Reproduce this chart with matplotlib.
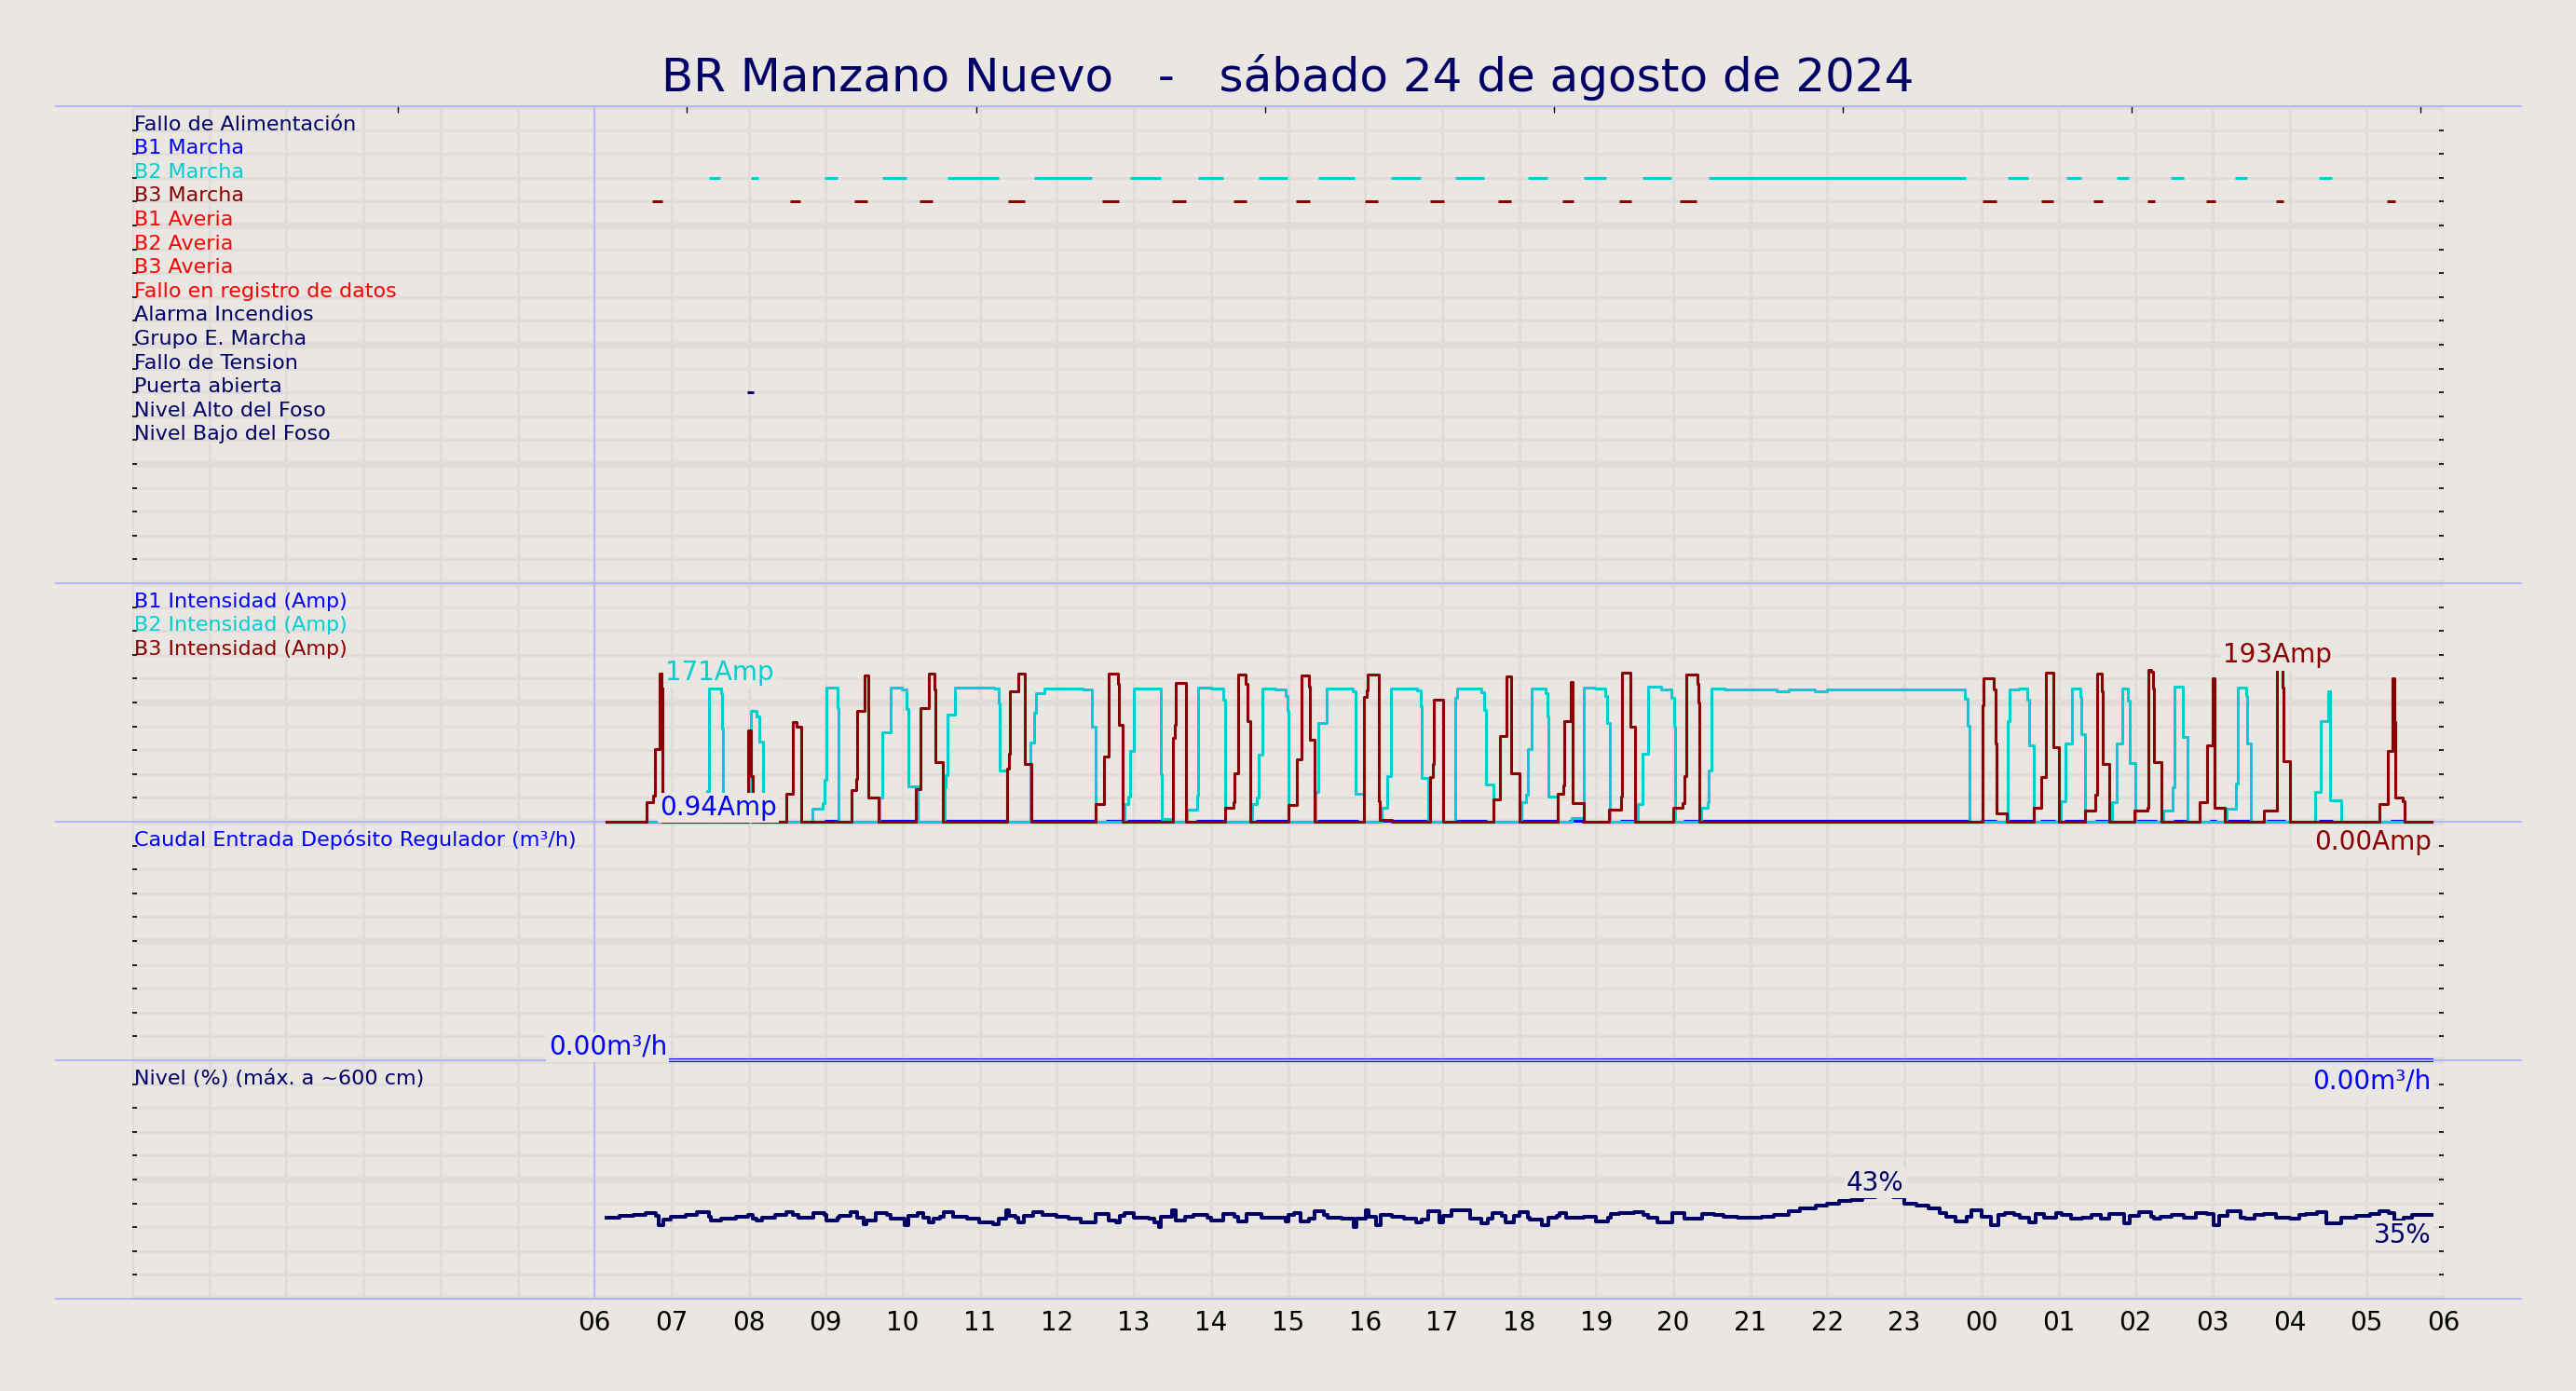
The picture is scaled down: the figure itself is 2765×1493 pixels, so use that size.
import numpy as np
import matplotlib.pyplot as plt

BG = "#eae6e1"
GRID = "#e1dcda"
LAV = "#b3b3ff"
NAVY = "#000066"
BLUE = "#0000ff"
TURQ = "#00ced1"
DRED = "#8b0000"
RED = "#ff0000"

TITLE = "BR Manzano Nuevo   -   sábado 24 de agosto de 2024"

# etiquetas de estado (fila 1..14)
status_labels = ["Fallo de Alimentación", "B1 Marcha", "B2 Marcha", "B3 Marcha",
                 "B1 Averia", "B2 Averia", "B3 Averia", "Fallo en registro de datos",
                 "Alarma Incendios", "Grupo E. Marcha", "Fallo de Tension",
                 "Puerta abierta", "Nivel Alto del Foso", "Nivel Bajo del Foso"]
status_colors = [NAVY, BLUE, TURQ, DRED, RED, RED, RED, RED,
                 NAVY, NAVY, NAVY, NAVY, NAVY, NAVY]

hour_ticks = list(range(6, 31))
hour_labels = ["06", "07", "08", "09", "10", "11", "12", "13", "14", "15", "16", "17",
               "18", "19", "20", "21", "22", "23", "00", "01", "02", "03", "04", "05", "06"]
top_ticks = [3.45, 7.2, 10.95, 14.7, 18.45, 22.2, 25.95, 29.7]

# señales de marcha (inicio / fin, horas desde 00:00)
b2_on = [7.49, 8.03, 8.98, 9.74, 10.58, 11.70, 12.95, 13.83, 14.62, 15.39, 16.34,
         17.17, 18.11, 18.84, 19.60, 20.46, 24.34, 25.10, 25.76, 26.46, 27.29, 28.38]
b2_off = [7.63, 8.12, 9.15, 10.05, 11.25, 12.46, 13.35, 14.16, 14.99, 15.86, 16.72,
          17.55, 18.37, 19.13, 19.98, 23.80, 24.61, 25.30, 25.91, 26.63, 27.45, 28.55]
b3_on = [6.75, 8.54, 9.37, 10.22, 11.37, 12.59, 13.50, 14.29, 15.10, 16.00, 16.85,
         17.73, 18.56, 19.30, 20.09, 24.02, 24.78, 25.45, 26.16, 26.92, 27.82, 29.26]
b3_off = [6.88, 8.67, 9.54, 10.39, 11.59, 12.80, 13.68, 14.46, 15.28, 16.17, 17.02,
          17.90, 18.71, 19.45, 20.30, 24.19, 24.93, 25.57, 26.25, 27.04, 27.92, 29.37]
door_on = [7.98]
door_off = [8.07]

# intensidades (Amp), escalones
b1_t = [6.16, 7.61, 7.66, 9.00, 9.17, 9.69, 10.17, 10.54, 11.35, 11.66, 12.50, 12.65,
        12.83, 12.93, 13.36, 13.82, 14.18, 14.59, 15.01, 15.39, 15.90, 16.20, 16.82,
        17.19, 17.57, 18.03, 18.48, 18.66, 18.83, 19.32, 19.52, 20.15, 20.33, 20.35,
        23.84, 24.00, 24.18, 24.36, 24.66, 24.78, 24.95, 25.09, 25.33, 25.49, 25.65,
        26.01, 26.26, 26.50, 26.66, 26.98, 27.04, 27.18, 27.49, 27.71, 27.93, 28.39,
        28.55, 29.32, 29.48, 29.84]
b1_v = [0, 0.94, 0, 0.8, 0, 0.8, 0, 0.8, 0, 0.8, 0, 0.8,
        0, 0.8, 0, 0.8, 0, 0.8, 0, 0.8, 0, 0.8, 0,
        0.8, 0, 0.8, 0, 0.8, 0, 0.8, 0, 0.8, 0, 0.8,
        0, 0.8, 0, 0.8, 0, 0.8, 0, 0.8, 0, 0.8, 0,
        0.8, 0, 0.8, 0, 0.8, 0, 0.8, 0, 0.8, 0, 0.8,
        0, 0.8, 0, 0]

b2_t = [6.16, 7.46, 7.49, 7.62, 7.64, 7.65, 7.67, 8.03, 8.10, 8.14, 8.19,
        8.83, 8.96, 8.98, 9.01, 9.15, 9.17, 9.70, 9.74, 9.84, 9.99, 10.05, 10.07, 10.19,
        10.54, 10.56, 10.58, 10.68, 11.18, 11.25, 11.26, 11.35,
        11.66, 11.70, 11.73, 11.84, 12.03, 12.19, 12.33, 12.46, 12.50,
        12.875, 12.93, 12.95, 13.00, 13.18, 13.35, 13.36, 13.50,
        13.69, 13.82, 13.83, 14.00, 14.16, 14.18,
        14.53, 14.60, 14.62, 14.67, 14.84, 14.97, 14.99, 15.01,
        15.36, 15.39, 15.50, 15.68, 15.84, 15.88, 15.98,
        16.21, 16.29, 16.34, 16.50, 16.68, 16.72, 16.74, 16.82,
        17.17, 17.19, 17.51, 17.55, 17.57, 17.67,
        18.03, 18.09, 18.11, 18.16, 18.34, 18.37, 18.38, 18.50,
        18.68, 18.84, 18.99, 19.12, 19.14, 19.18,
        19.54, 19.60, 19.67, 19.84, 19.97, 20.01, 20.02,
        20.36, 20.45, 20.46, 20.50, 20.67, 21.34, 21.50, 21.84, 22.00, 23.79, 23.82, 23.84,
        24.34, 24.36, 24.49, 24.60, 24.62, 24.68,
        25.03, 25.09, 25.095, 25.17, 25.29, 25.30, 25.34,
        25.69, 25.75, 25.76, 25.83, 25.905, 25.92, 26.00,
        26.36, 26.48, 26.50, 26.61, 26.62, 26.67,
        27.18, 27.30, 27.33, 27.44, 27.445, 27.50,
        28.33, 28.40, 28.50, 28.525, 28.53, 28.67, 29.84]
b2_v = [0, 39, 167, 171, 162, 117, 0, 139, 132, 101, 0,
        16, 23, 53, 169, 143, 0, 30, 112, 169, 166, 142, 45, 0,
        43, 59, 135, 169, 167, 149, 65, 0,
        100, 137, 162, 168, 167, 168, 166, 119, 0,
        22, 32, 89, 168, 167, 60, 4, 0,
        15, 33, 169, 167, 154, 0,
        22, 31, 84, 168, 166, 158, 140, 0,
        38, 124, 168, 167, 164, 35, 0,
        18, 58, 168, 167, 165, 145, 55, 0,
        156, 168, 163, 141, 47, 0,
        25, 34, 91, 168, 162, 132, 32, 0,
        5, 169, 167, 158, 124, 0,
        22, 86, 170, 166, 156, 120, 0,
        17, 25, 64, 168, 166, 164, 166, 164, 166, 155, 121, 0,
        127, 166, 167, 154, 96, 0,
        26, 36, 98, 167, 157, 110, 0,
        25, 35, 98, 167, 152, 74, 0,
        14, 43, 170, 158, 107, 0,
        16, 48, 169, 158, 99, 0,
        37, 126, 164, 126, 27, 0, 0]

b3_t = [6.16, 6.67, 6.76, 6.78, 6.84, 6.88, 7.99, 8.03, 8.05,
        8.49, 8.57, 8.62, 8.68, 9.335, 9.39, 9.41, 9.50, 9.55, 9.68,
        10.17, 10.23, 10.34, 10.41, 10.42, 10.52, 11.35, 11.38, 11.39, 11.50, 11.58, 11.67,
        12.50, 12.61, 12.67, 12.79, 12.80, 12.85, 13.51, 13.53, 13.54, 13.67,
        14.18, 14.29, 14.31, 14.35, 14.45, 14.47, 14.51, 15.01, 15.12, 15.17, 15.27, 15.28, 15.34,
        15.99, 16.02, 16.03, 16.18, 16.19, 16.35, 16.84, 16.88, 16.89, 17.01,
        17.67, 17.75, 17.84, 17.89, 17.90, 18.01, 18.505, 18.57, 18.58, 18.67, 18.70, 18.84,
        19.17, 19.32, 19.34, 19.44, 19.51, 20.00, 20.12, 20.14, 20.17, 20.31, 20.33, 20.34,
        24.01, 24.02, 24.03, 24.16, 24.18, 24.19, 24.33, 24.68, 24.78, 24.84, 24.93, 25.00,
        25.34, 25.48, 25.50, 25.56, 25.58, 25.66, 25.99, 26.15, 26.17, 26.20, 26.23, 26.24, 26.34,
        26.83, 26.93, 27.00, 27.02, 27.16, 27.67, 27.83, 27.84, 27.91, 27.92, 28.00,
        29.16, 29.27, 29.28, 29.33, 29.36, 29.37, 29.47, 29.49, 29.84]
b3_v = [0, 25, 33, 91, 186, 0, 115, 57, 0,
        35, 125, 119, 0, 40, 54, 140, 184, 31, 0,
        41, 143, 186, 166, 75, 0, 67, 85, 164, 186, 73, 0,
        22, 82, 186, 174, 122, 0, 105, 122, 175, 0,
        17, 25, 61, 185, 174, 127, 0, 21, 79, 184, 170, 103, 0,
        157, 165, 185, 26, 2, 0, 56, 73, 154, 0,
        28, 108, 183, 159, 61, 0, 35, 46, 126, 176, 23, 0,
        15, 32, 187, 120, 0, 17, 24, 58, 185, 174, 150, 0,
        120, 147, 180, 166, 99, 11, 0, 17, 56, 188, 94, 0,
        14, 34, 186, 164, 73, 0, 14, 18, 191, 189, 168, 75, 0,
        25, 96, 181, 18, 0, 14, 18, 193, 169, 76, 0,
        22, 33, 89, 180, 125, 30, 26, 0, 0]

# caudal (m3/h)
flow_t = [6.17, 29.84]
flow_v = [0.0, 0.0]

# nivel (%)
level_t = [6.15, 6.33, 6.50, 6.66, 6.79, 6.83, 6.89, 6.99, 7.18, 7.33,
           7.49, 7.51, 7.64, 7.83, 7.99, 8.05, 8.10, 8.18, 8.34, 8.49,
           8.57, 8.64, 8.84, 8.98, 9.01, 9.15, 9.18, 9.32, 9.41, 9.49,
           9.53, 9.65, 9.79, 9.84, 10.03, 10.07, 10.19, 10.26, 10.34, 10.40,
           10.48, 10.53, 10.65, 10.84, 10.99, 11.17, 11.25, 11.34, 11.38, 11.46,
           11.50, 11.57, 11.69, 11.81, 12.00, 12.15, 12.31, 12.46, 12.50, 12.61,
           12.67, 12.77, 12.82, 12.88, 13.00, 13.19, 13.27, 13.33, 13.35, 13.50,
           13.54, 13.66, 13.77, 13.96, 14.00, 14.16, 14.31, 14.35, 14.46, 14.66,
           14.81, 14.97, 15.00, 15.08, 15.16, 15.27, 15.35, 15.47, 15.51, 15.70,
           15.85, 15.89, 16.01, 16.05, 16.14, 16.20, 16.35, 16.51, 16.66, 16.74,
           16.82, 16.97, 17.01, 17.12, 17.36, 17.51, 17.59, 17.66, 17.78, 17.82,
           17.93, 18.01, 18.11, 18.14, 18.30, 18.38, 18.49, 18.53, 18.61, 18.76,
           18.84, 19.00, 19.15, 19.19, 19.30, 19.49, 19.61, 19.67, 19.80, 19.99,
           20.15, 20.30, 20.38, 20.53, 20.65, 20.84, 21.15, 21.31, 21.50, 21.65,
           21.85, 22.00, 22.15, 22.31, 22.46, 22.62, 22.85, 23.00, 23.16, 23.31,
           23.46, 23.54, 23.66, 23.81, 23.87, 24.00, 24.12, 24.22, 24.31, 24.43,
           24.50, 24.62, 24.70, 24.81, 24.97, 25.04, 25.16, 25.31, 25.43, 25.55,
           25.66, 25.85, 25.93, 26.05, 26.20, 26.24, 26.32, 26.47, 26.63, 26.78,
           26.93, 27.01, 27.09, 27.20, 27.36, 27.43, 27.55, 27.67, 27.82, 28.01,
           28.13, 28.21, 28.36, 28.48, 28.67, 28.86, 29.05, 29.17, 29.29, 29.36,
           29.48, 29.59, 29.71, 29.84]
level_v = [33.9, 34.6, 35.3, 36.1, 34.8, 31.0, 33.2, 34.5, 35.3, 36.3,
           34.5, 33.0, 33.5, 34.5, 35.0, 33.7, 32.8, 33.9, 35.3, 36.3,
           35.2, 34.1, 36.1, 35.0, 32.8, 33.9, 34.8, 36.3, 34.1, 31.2,
           32.8, 36.1, 35.0, 33.5, 30.8, 34.8, 36.1, 34.1, 32.2, 33.5,
           34.5, 36.5, 34.5, 33.7, 32.2, 31.3, 33.5, 37.0, 34.8, 34.1,
           32.2, 34.8, 36.3, 35.0, 34.5, 33.5, 31.9, 32.2, 35.7, 35.4,
           32.8, 32.2, 34.8, 35.8, 34.1, 33.5, 32.2, 30.2, 34.5, 37.0,
           32.8, 34.4, 35.0, 34.1, 32.8, 35.7, 34.5, 32.6, 35.7, 34.1,
           33.9, 32.4, 35.0, 36.1, 32.6, 33.7, 36.6, 35.2, 34.1, 33.5,
           30.2, 33.5, 37.0, 34.5, 30.9, 35.2, 34.5, 33.5, 32.2, 33.2,
           36.6, 32.2, 34.8, 37.0, 33.5, 31.5, 33.5, 36.1, 34.8, 32.2,
           34.8, 36.3, 33.9, 33.2, 30.9, 33.9, 34.8, 36.1, 34.1, 33.9,
           34.5, 32.6, 34.1, 35.4, 35.8, 36.3, 35.0, 34.1, 32.2, 35.8,
           33.5, 33.7, 35.4, 35.0, 34.5, 33.9, 34.5, 35.2, 36.7, 37.8,
           38.9, 40.0, 40.9, 41.5, 42.4, 43.0, 42.6, 40.0, 38.9, 37.8,
           36.1, 34.5, 32.6, 34.5, 37.0, 34.5, 30.9, 35.0, 36.1, 35.0,
           33.9, 32.2, 35.4, 33.9, 36.1, 35.0, 33.5, 34.1, 35.0, 33.5,
           35.4, 31.6, 34.8, 36.3, 34.5, 33.5, 34.5, 35.2, 33.9, 36.1,
           35.4, 30.9, 34.8, 36.6, 34.1, 33.5, 35.3, 35.4, 34.1, 33.5,
           35.0, 35.4, 36.3, 31.5, 34.1, 34.8, 35.4, 36.6, 35.8, 32.8,
           34.1, 35.0, 35.3, 35.3]


def amp_row(v):
    # panel intensidad: fila 30 = 0 Amp, 30 Amp por fila
    return 30 - np.asarray(v, dtype=float) / 30.0


def flow_row(v):
    return 40 - np.asarray(v, dtype=float) / 10.0


def level_row(v):
    # panel nivel: fila 50 = 0 %, 10 % por fila
    return 50 - np.asarray(v, dtype=float) / 10.0


def fmt_amp(v):
    return f"{v:.0f}Amp" if v >= 10 else f"{v:.2f}Amp"


BOX = dict(boxstyle="square,pad=0.08", fc=BG, ec="none")


def tag_series(ax, t, v, to_row, fmt, color, z):
    i = int(np.argmax(v))
    ax.text(t[i], to_row(v[i]), fmt(v[i]), color=color, fontsize=10,
            ha="center", va="bottom", bbox=BOX, zorder=z)
    ax.annotate(fmt(v[-1]), (t[-1], to_row(v[-1])), xytext=(0, -3),
                textcoords="offset points", color=color, fontsize=10,
                ha="right", va="top", bbox=BOX, zorder=z)


def marks(ax, row, starts, ends, color):
    ax.hlines(np.full(len(starts), row), starts, ends, color=color, lw=1.1, zorder=3)


fig = plt.figure(figsize=(13.825, 7.465), dpi=200, facecolor=BG)
ax = fig.add_axes([142 / 2765, 1 - 1394 / 1493, 2481 / 2765, 1280 / 1493])
ax.set_facecolor(BG)
ax.set_xlim(0, 30)
ax.set_ylim(50, 0)
for s in ax.spines.values():
    s.set_visible(False)

# rejilla
for h in range(31):
    ax.axvline(h, color=GRID, lw=1.1, zorder=0)
for r in range(51):
    ax.axhline(r, color=GRID, lw=2.5 if r % 5 == 0 else 1.0, zorder=0)

# separadores de paneles
for r in (0, 20, 30, 40, 50):
    ax.axhline(r, xmin=-0.033, xmax=1.0335, color=LAV, lw=0.7,
               clip_on=False, zorder=2.5)
ax.axvline(6, color=LAV, lw=0.55, zorder=2.5)

ax.set_xticks(hour_ticks)
ax.set_xticklabels(hour_labels)
ax.tick_params(axis="x", length=0, pad=4.5, labelsize=10)
ax.set_yticks(range(51))
ax.tick_params(axis="y", direction="in", length=1.8, width=0.6,
               left=True, right=True, labelleft=False)

top = ax.secondary_xaxis("top")
top.set_xticks(top_ticks)
top.set_xticklabels([])
top.tick_params(direction="in", length=2.6, width=0.5)
top.spines["top"].set_visible(False)

LABEL_FS = 8

# panel de estados
for i, (lab, col) in enumerate(zip(status_labels, status_colors)):
    ax.text(0.02, i + 1, lab, color=col, fontsize=LABEL_FS, va="baseline", ha="left")
marks(ax, 3, b2_on, b2_off, TURQ)
marks(ax, 4, b3_on, b3_off, DRED)
marks(ax, 12, door_on, door_off, NAVY)

# panel intensidades
ax.text(0.02, 21, "B1 Intensidad (Amp)", color=BLUE, fontsize=LABEL_FS, va="baseline")
ax.text(0.02, 22, "B2 Intensidad (Amp)", color=TURQ, fontsize=LABEL_FS, va="baseline")
ax.text(0.02, 23, "B3 Intensidad (Amp)", color=DRED, fontsize=LABEL_FS, va="baseline")
ax.plot(b1_t, amp_row(b1_v), drawstyle="steps-post", color=BLUE, lw=1.1, zorder=3)
ax.plot(b2_t, amp_row(b2_v), drawstyle="steps-post", color=TURQ, lw=1.1, zorder=4)
ax.plot(b3_t, amp_row(b3_v), drawstyle="steps-post", color=DRED, lw=1.1, zorder=5)
tag_series(ax, b1_t, b1_v, amp_row, fmt_amp, BLUE, 10)
tag_series(ax, b2_t, b2_v, amp_row, fmt_amp, TURQ, 11)
tag_series(ax, b3_t, b3_v, amp_row, fmt_amp, DRED, 12)

# panel caudal
ax.text(0.02, 31, "Caudal Entrada Depósito Regulador (m³/h)", color=BLUE,
        fontsize=LABEL_FS, va="baseline")
ax.plot(flow_t, flow_row(flow_v), drawstyle="steps-post", color=BLUE, lw=1.4, zorder=2)
tag_series(ax, flow_t, flow_v, flow_row, lambda v: f"{v:.2f}m³/h", BLUE, 13)

# panel nivel
ax.text(0.02, 41, "Nivel (%) (máx. a ~600 cm)", color=NAVY, fontsize=LABEL_FS,
        va="baseline")
ax.plot(level_t, level_row(level_v), drawstyle="steps-post", color=NAVY, lw=1.45, zorder=3)
tag_series(ax, level_t, level_v, level_row, lambda v: f"{v:.0f}%", NAVY, 14)

fig.text(0.5, 1 - 83 / 1493, TITLE, color=NAVY, fontsize=18, ha="center", va="center")

fig.savefig("out.png", dpi=200, facecolor=BG)
